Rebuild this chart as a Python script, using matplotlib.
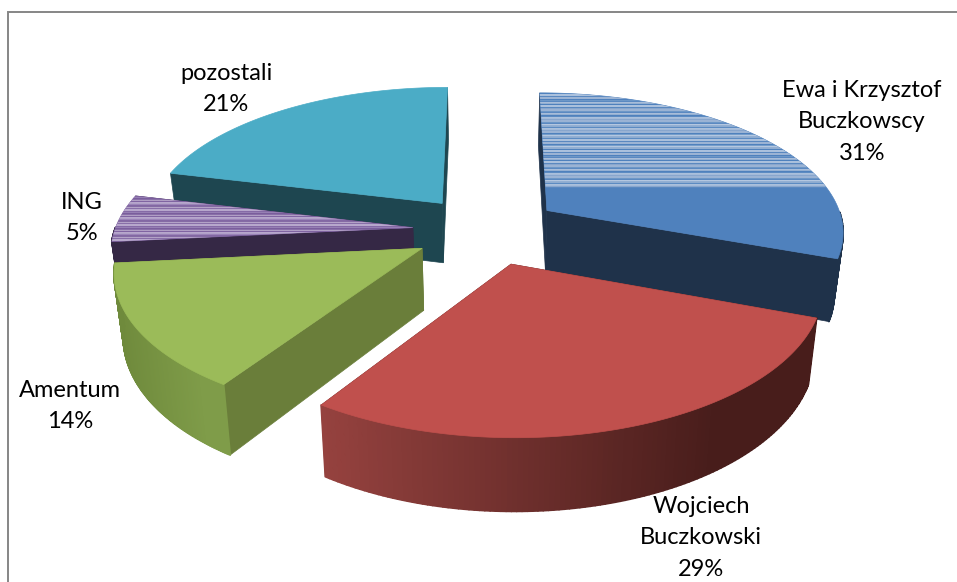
import numpy as np
import matplotlib
matplotlib.use("Agg")
import matplotlib.pyplot as plt
from matplotlib.collections import PolyCollection
from matplotlib.colors import to_rgb
from matplotlib.patches import Polygon

# Data (shares, labels show them rounded)
names = ["Ewa i Krzysztof\nBuczkowscy", "Wojciech\nBuczkowski", "Amentum", "ING", "pozostali"]
values = [30.6, 28.7, 14.1, 5.4, 21.2]

# Colours: top, radial face, outer wall left, outer wall right
top_colors = ["#4F81BD", "#C0504D", "#9BBB59", "#8064A2", "#4BACC6"]
face_colors = ["#1F324A", "#4E1F1D", "#6A7E3A", "#352845", "#1E4650"]
wall_left = ["#1F324A", "#96423F", "#6F8A3C", "#352845", "#1E4650"]
wall_right = ["#1F324A", "#481D1B", "#7F9C49", "#352845", "#1E4650"]

# Label centres in pixels
label_pos = [(862, 122), (701, 538), (70, 406), (82, 218), (226, 89)]

# Pie geometry in pixels
cx, cy = 487, 230
rx, ry = 298, 139
explode = 0.25
persp = 7.2
height = 61
bottom_scale = 0.975


def project(u, v, low=False):
    # u, v are on the pie plane, v points to the back
    s = persp / (persp + v)
    if low:
        return cx + rx * u * s * bottom_scale, cy - ry * v * s + height * s
    return cx + rx * u * s, cy - ry * v * s


def edge_points(angles, off_u, off_v, low=False):
    return np.column_stack(project(np.sin(angles) + off_u, np.cos(angles) + off_v, low))


fig = plt.figure(figsize=(9.57, 5.82), dpi=100)
ax = fig.add_axes([0, 0, 1, 1])
ax.set_xlim(0, 957)
ax.set_ylim(582, 0)
ax.axis("off")

# Chart frame (only top and left fall inside the picture)
ax.plot([8, 8, 957], [582, 12, 12], color="#868686", lw=1.4, solid_joinstyle="miter")

# Angles of the slices, clockwise from 12 o'clock
edges = np.radians(np.cumsum([0] + values) * 3.6)

# Back slices first
for i in [4, 3, 0, 2, 1]:
    a0, a1 = edges[i], edges[i + 1]
    mid = (a0 + a1) / 2
    off_u, off_v = explode * np.sin(mid), explode * np.cos(mid)
    arc = np.linspace(a0, a1, 120)
    top_arc = edge_points(arc, off_u, off_v)
    low_arc = edge_points(arc, off_u, off_v, low=True)
    apex_top = np.array(project(off_u, off_v))
    apex_low = np.array(project(off_u, off_v, low=True))

    # Radial faces
    for k in [0, -1]:
        ax.add_patch(Polygon([apex_top, top_arc[k], low_arc[k], apex_low],
                             fc=face_colors[i], ec=face_colors[i], lw=0.5))

    # Outer wall, shaded along x, only the part facing the viewer
    quads = [[top_arc[j], top_arc[j + 1], low_arc[j + 1], low_arc[j]]
             for j in range(len(arc) - 1) if np.cos(arc[j]) < 0]
    t = (top_arc[:-1, 0] - top_arc[:, 0].min()) / np.ptp(top_arc[:, 0])
    t = t[np.cos(arc[:-1]) < 0]
    c0, c1 = np.array(to_rgb(wall_left[i])), np.array(to_rgb(wall_right[i]))
    shades = [c0 + (c1 - c0) * min(1, x * 1.25) for x in t]
    if quads:
        ax.add_collection(PolyCollection(quads, facecolors=shades, edgecolors=shades, linewidths=1.3))

    # Top of the slice
    top = Polygon(np.vstack([apex_top, top_arc]), fc=top_colors[i], ec=top_colors[i], lw=0.5)
    ax.add_patch(top)

    # Banding seen on the blue and purple tops
    if i == 0:
        for y, col, w in zip(np.arange(92, 187, 1.6),
                             ["#A5BBD8", "#5C8BC2", "#B4C7E0", "#88A6CD", "#9DB5D5", "#6E98C8", "#B4C7E0"] * 60,
                             [1.1, 0.8, 1.3, 1.0, 1.4, 0.7, 0.9] * 60):
            ax.hlines(y, 530, 860, color=col, lw=w, clip_path=top)
    if i == 3:
        for y, col, w in zip(np.arange(192, 242, 1.5),
                             ["#B3A2C7", "#8064A2", "#C3B5D5", "#9B84B8", "#7A5E9C"] * 30,
                             [1.0, 0.8, 1.2, 1.0, 0.9] * 30):
            ax.hlines(y, 100, 420, color=col, lw=w, clip_path=top)

# Data labels
for name, value, (x, y) in zip(names, values, label_pos):
    ax.text(x, y, f"{name}\n{round(value)}%", ha="center", va="center", family="Lato",
            fontsize=17, color="#000000", linespacing=1.6, clip_on=True)

fig.savefig("out.png", dpi=100)
